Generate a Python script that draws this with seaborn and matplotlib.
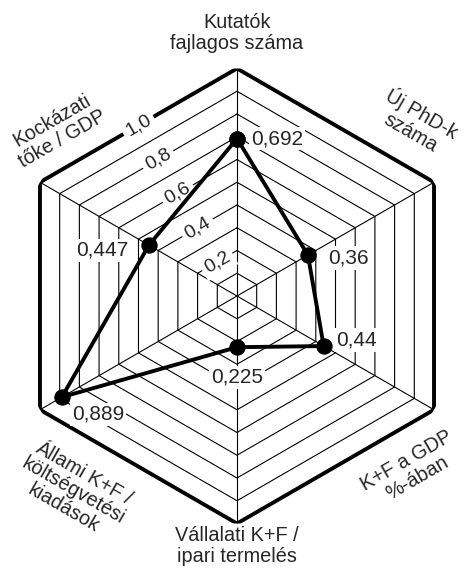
import matplotlib
matplotlib.use('Agg')

import matplotlib.pyplot as plt
import numpy as np
import pandas as pd
import seaborn as sns

# indicator names, clockwise from the top
categories = [
    'Kutatók\nfajlagos száma',
    'Új PhD-k\nszáma',
    'K+F a GDP\n%-ában',
    'Vállalati K+F /\nipari termelés',
    'Állami K+F /\nköltségvetési\nkiadások',
    'Kockázati\ntőke / GDP',
]
values = [0.692, 0.36, 0.44, 0.225, 0.889, 0.447]
value_labels = ['0,692', '0,36', '0,44', '0,225', '0,889', '0,447']
ring_levels = [0.1, 0.2, 0.3, 0.4, 0.5, 0.6, 0.7, 0.8, 0.9, 1.0]
tick_levels = [0.2, 0.4, 0.6, 0.8, 1.0]
tick_labels = ['0,2', '0,4', '0,6', '0,8', '1,0']

sns.set_style('white')
plt.rcParams['font.family'] = ['Liberation Sans', 'DejaVu Sans']

n = len(categories)
theta = np.linspace(0, 2 * np.pi, n, endpoint=False)
theta_closed = np.append(theta, theta[0] + 2 * np.pi)

fig = plt.figure(figsize=(4.65, 5.8), dpi=100)
ax = fig.add_axes([0.0204, 0.0974, 0.9785, 0.7845], projection='polar')
ax.set_theta_zero_location('N')
ax.set_theta_direction(-1)
ax.set_ylim(0, 1)
ax.grid(False)
ax.set_xticks([])
ax.set_yticks([])
ax.spines['polar'].set_visible(False)
ax.patch.set_alpha(0)

# hexagonal rings and spokes
for lvl in ring_levels:
    lw = 2.8 if lvl == 1.0 else 0.8
    ax.plot(theta_closed, [lvl] * (n + 1), color='black', lw=lw, zorder=1,
            solid_joinstyle='miter')
for t in theta:
    ax.plot([t, t], [0, 1], color='black', lw=0.8, zorder=1)

# scale labels on the upper-left edge
for lvl, lab in zip(tick_levels, tick_labels):
    ax.text(np.deg2rad(330), lvl * np.cos(np.pi / 6), lab, rotation=30,
            ha='center', va='center', fontsize=14, zorder=3,
            rotation_mode='anchor',
            bbox=dict(boxstyle='square,pad=0.2', fc='white', ec='none'))

df = pd.DataFrame({'theta': theta_closed, 'value': values + values[:1]})
sns.lineplot(data=df, x='theta', y='value', sort=False, estimator=None,
             color='black', lw=2.8, marker='o', markersize=11,
             markeredgecolor='black', ax=ax, zorder=4)

# value labels
offsets = [(14, 0, 'left'), (20, -3, 'left'), (12, 6, 'left'),
           (0, -30, 'center'), (10, -17, 'left'), (-21, -5, 'right')]
for t, v, lab, (dx, dy, ha) in zip(theta, values, value_labels, offsets):
    ax.annotate(lab, xy=(t, v), xytext=(dx, dy), textcoords='offset pixels',
                ha=ha, va='center', fontsize=15, zorder=5,
                bbox=dict(boxstyle='square,pad=0.1', fc='white', ec='none'))

# category labels around the hexagon
label_pos = [(0, 1.156, 0), (46, 1.097, -30), (134.8, 1.083, 30),
             (180, 1.099, 0), (220, 1.117, -30), (312.7, 1.077, 30)]
for lab, (deg, r, rot) in zip(categories, label_pos):
    ax.text(np.deg2rad(deg), r, lab, rotation=rot, rotation_mode='anchor',
            ha='center', va='center', fontsize=14.3, linespacing=1.1,
            clip_on=False)

fig.savefig('out.png', dpi=100)
plt.close()
